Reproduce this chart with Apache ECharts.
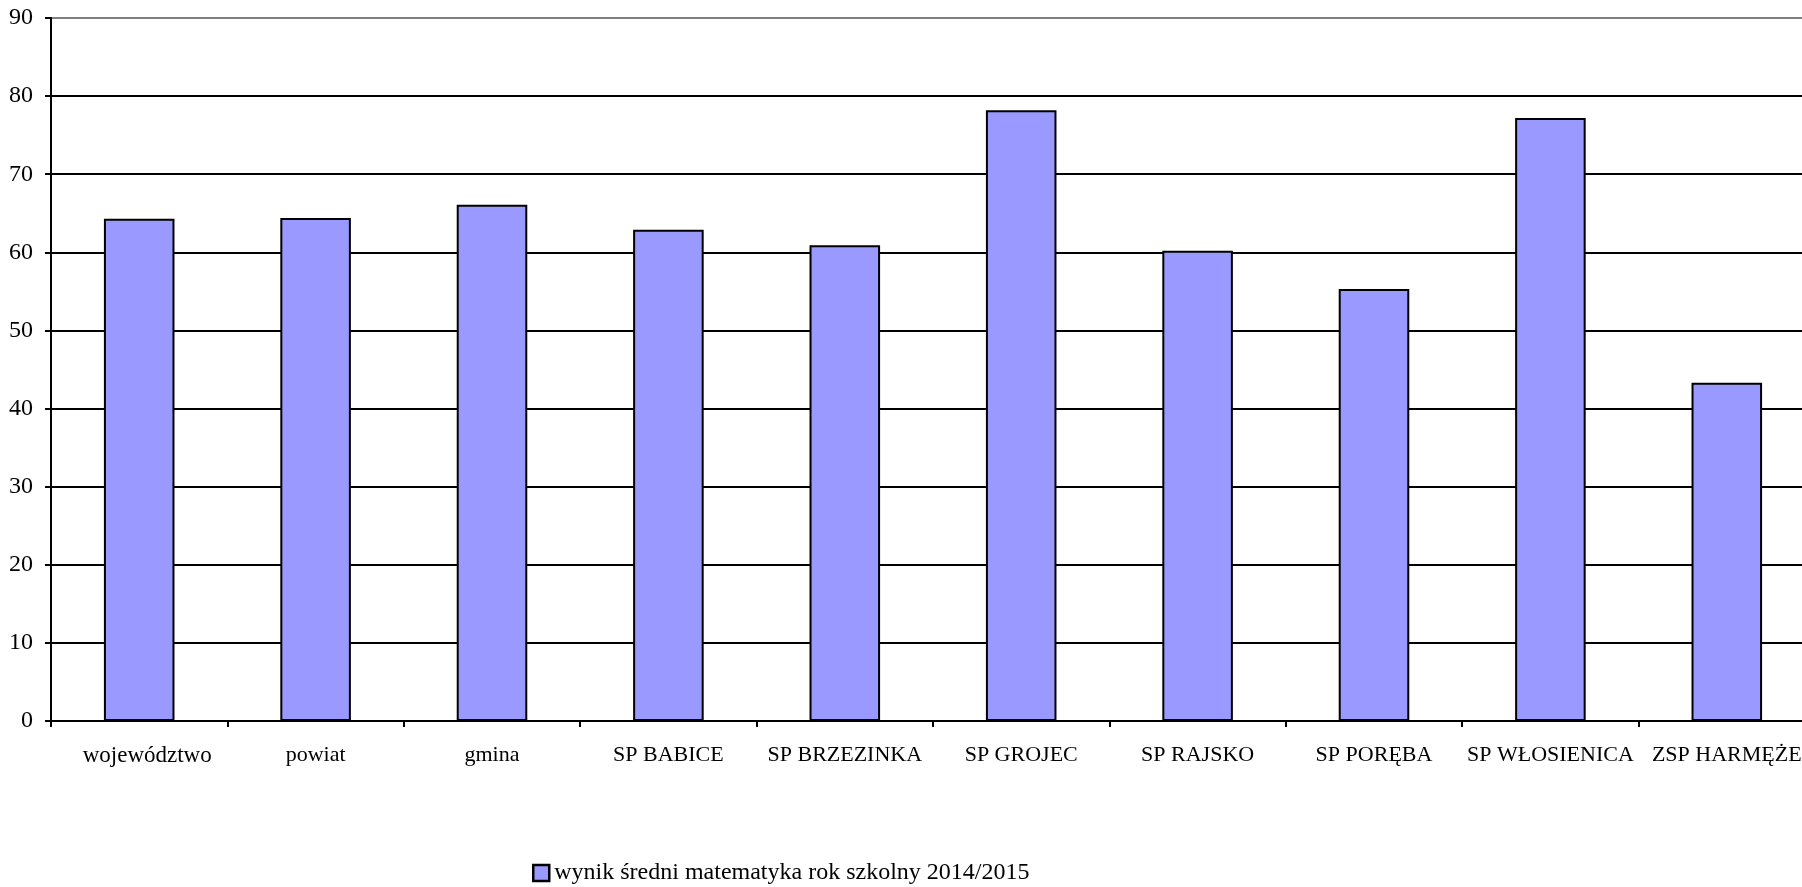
<!DOCTYPE html>
<html>
<head>
<meta charset="utf-8">
<script src="https://cdn.jsdelivr.net/npm/echarts@6/dist/echarts.min.js"></script>
<style>
html,body{margin:0;padding:0;background:#fff;}
#chart{width:1802px;height:887px;}
</style>
</head>
<body>
<div id="chart"></div>
<script>
const categories = ['województwo','powiat','gmina','SP BABICE','SP BRZEZINKA','SP GROJEC','SP RAJSKO','SP PORĘBA','SP WŁOSIENICA','ZSP HARMĘŻE'];
const values = [64.3, 64.4, 66.1, 62.9, 60.9, 78.2, 60.2, 55.3, 77.2, 43.3];
const seriesName = 'wynik średni matematyka rok szkolny 2014/2015';
const yMin = 0, yMax = 90, yInterval = 10;

const font = 'Liberation Serif';
const chart = echarts.init(document.getElementById('chart'), null, {renderer:'canvas'});
chart.setOption({
  animation:false,
  backgroundColor:'#ffffff',
  textStyle:{fontFamily:font},
  grid:{left:51, top:18, width:1764, height:703, containLabel:false, outerBoundsMode:'none'},
  legend:{
    left:532, top:861, padding:0,
    itemWidth:16, itemHeight:16, itemGap:10,
    icon:'rect',
    data:[{name:seriesName, itemStyle:{color:'#9999ff', borderColor:'#000', borderWidth:2.5}}],
    textStyle:{fontFamily:font, fontSize:24, color:'#000'}
  },
  xAxis:{
    type:'category',
    data:categories,
    boundaryGap:true,
    axisLine:{show:true, lineStyle:{color:'#000', width:2}},
    axisTick:{show:true, length:6, lineStyle:{color:'#000', width:2}},
    axisLabel:{
      fontFamily:font, fontSize:22, color:'#000', margin:23, interval:0,
      formatter:function(v, i){ return i === 0 ? '{first|' + v + '}' : v; },
      rich:{first:{fontFamily:font, fontSize:23, color:'#000', padding:[0,0,0,16]}}
    }
  },
  yAxis:{
    type:'value',
    min:yMin, max:yMax, interval:yInterval,
    axisLine:{show:true, lineStyle:{color:'#000', width:2}},
    axisTick:{show:true, length:6, lineStyle:{color:'#000', width:2}},
    axisLabel:{fontFamily:font, fontSize:24, color:'#000', margin:18},
    splitLine:{show:true, lineStyle:{color:['#000','#000','#000','#000','#000','#000','#000','#000','#000','#808080'], width:2}}
  },
  series:[{
    name:seriesName,
    type:'bar',
    data:values,
    barWidth:'40%',
    itemStyle:{color:'#9999ff', borderColor:'#000', borderWidth:2}
  }]
});
</script>
</body>
</html>
